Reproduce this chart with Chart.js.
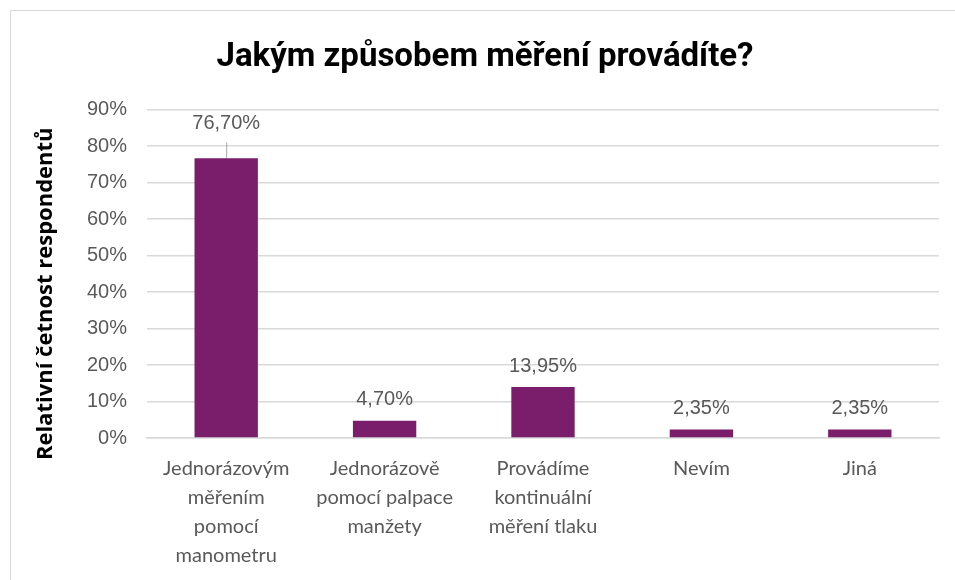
<!DOCTYPE html>
<html>
<head>
<meta charset="utf-8">
<script src="https://cdn.jsdelivr.net/npm/chart.js@4"></script>
<style>
    html, body { margin: 0; padding: 0; background: #ffffff; }
    #frame {
        position: absolute; left: 10px; top: 10px;
        width: 960px; height: 580px;
        border: 1px solid #d9d9d9; box-sizing: border-box;
    }
    #wrap { position: absolute; left: 0; top: 0; width: 944px; height: 575px; }
</style>
</head>
<body>
<div id="frame"><div id="wrap"><canvas id="measureChart"></canvas></div></div>
<script>
// Data
const categories = [
    ['Jednorázovým', 'měřením', 'pomocí', 'manometru'],
    ['Jednorázově', 'pomocí palpace', 'manžety'],
    ['Provádíme', 'kontinuální', 'měření tlaku'],
    ['Nevím'],
    ['Jiná']
];
const percentages = [76.70, 4.70, 13.95, 2.35, 2.35];
const yTicks = [0, 10, 20, 30, 40, 50, 60, 70, 80, 90];
const yAxisTitle = 'Relativní četnost respondentů';

const barColor = '#7a1e6c';
const textGray = '#595959';

// Data labels drawn above bars (Czech decimal comma)
const valueLabels = {
    id: 'valueLabels',
    afterDatasetsDraw(chart) {
        const { ctx, scales } = chart;
        const meta = chart.getDatasetMeta(0);
        ctx.save();
        ctx.font = '20px "Liberation Sans", Arial, sans-serif';
        ctx.fillStyle = textGray;
        ctx.textAlign = 'center';
        ctx.textBaseline = 'middle';
        meta.data.forEach((bar, i) => {
            const v = percentages[i];
            const text = v.toFixed(2).replace('.', ',') + '%';
            if (v > 70) {
                // label pushed up with a leader line
                const ly = scales.y.getPixelForValue(86.2);
                ctx.fillText(text, bar.x, ly);
                ctx.strokeStyle = '#a6a6a6';
                ctx.lineWidth = 1;
                ctx.beginPath();
                ctx.moveTo(bar.x + 0.5, ly + 19);
                ctx.lineTo(bar.x + 0.5, bar.y);
                ctx.stroke();
            } else {
                ctx.fillText(text, bar.x, bar.y - 21);
            }
        });
        ctx.restore();
    }
};

// Rotated y-axis title, sitting a bit below the plot's middle like the original
const yTitle = {
    id: 'yTitle',
    afterDraw(chart) {
        const { ctx, chartArea } = chart;
        ctx.save();
        ctx.translate(35, (chartArea.top + chartArea.bottom) / 2 + 20);
        ctx.rotate(-Math.PI / 2);
        ctx.font = 'bold 22px "Open Sans", "Liberation Sans", Arial, sans-serif';
        ctx.fillStyle = '#000000';
        ctx.textAlign = 'center';
        ctx.textBaseline = 'middle';
        ctx.fillText(yAxisTitle, 0, 0);
        ctx.restore();
    }
};

new Chart(document.getElementById('measureChart'), {
    type: 'bar',
    data: {
        labels: categories,
        datasets: [{
            data: percentages,
            backgroundColor: barColor,
            barPercentage: 0.4,
            categoryPercentage: 1.0
        }]
    },
    options: {
        responsive: true,
        maintainAspectRatio: false,
        animation: false,
        layout: { padding: { left: 20, right: 16, top: 25, bottom: 0 } },
        plugins: {
            legend: { display: false },
            tooltip: { enabled: false },
            title: {
                display: true,
                text: 'Jakým způsobem měření provádíte?',
                color: '#000000',
                font: { family: 'Roboto, "Liberation Sans", Arial, sans-serif', size: 33, weight: 'bold' },
                padding: { top: 2, bottom: 32 }
            }
        },
        scales: {
            y: {
                min: 0,
                max: 90,
                afterBuildTicks(axis) { axis.ticks = yTicks.map(v => ({ value: v })); },
                afterFit(axis) { axis.width = 116; },
                ticks: {
                    color: textGray,
                    padding: 20,
                    font: { family: '"Liberation Sans", Arial, sans-serif', size: 20 },
                    callback: value => value + '%'
                },
                grid: { color: '#d9d9d9', lineWidth: 1.5, drawTicks: false },
                border: { display: false }
            },
            x: {
                ticks: {
                    color: textGray,
                    padding: 16,
                    maxRotation: 0,
                    autoSkip: false,
                    font: { family: 'Lato, "Liberation Sans", Arial, sans-serif', size: 20, lineHeight: 1.45 }
                },
                grid: { display: false, drawTicks: false },
                border: { color: '#d9d9d9', width: 1.5 }
            }
        }
    },
    plugins: [valueLabels, yTitle]
});
</script>
</body>
</html>
